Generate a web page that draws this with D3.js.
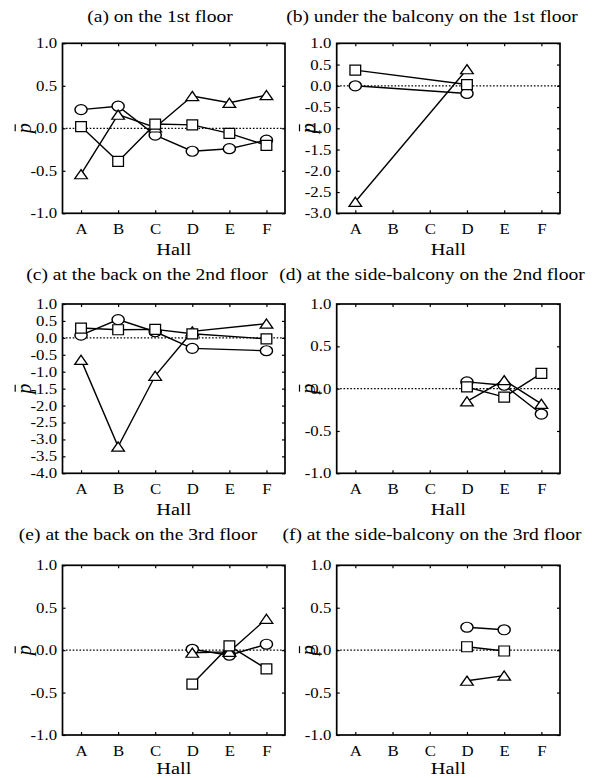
<!DOCTYPE html>
<html>
<head>
<meta charset="utf-8">
<script src="https://cdn.jsdelivr.net/npm/d3@7"></script>
<style>
  body { margin: 0; background: #fff; }
  text { font-family: "Liberation Serif", "Times New Roman", serif; fill: #000; }
</style>
</head>
<body>
<div id="chart"></div>
<script>
// categories and panel titles
var halls = ["A", "B", "C", "D", "E", "F"];
var titles = ["(a) on the 1st floor",
              "(b) under the balcony on the 1st floor",
              "(c) at the back on the 2nd floor",
              "(d) at the side-balcony on the 2nd floor",
              "(e) at the back on the 3rd floor",
              "(f) at the side-balcony on the 3rd floor"];

// y tick labels
var ticksOne   = [1.0, 0.5, 0.0, -0.5, -1.0];
var ticksThree = [1.0, 0.5, 0.0, -0.5, -1.0, -1.5, -2.0, -2.5, -3.0];
var ticksFour  = [1.0, 0.5, 0.0, -0.5, -1.0, -1.5, -2.0, -2.5, -3.0, -3.5, -4.0];

// values per hall (null = not measured)
var aCircle   = [0.22, 0.26, -0.08, -0.27, -0.24, -0.14];
var aSquare   = [0.02, -0.39, 0.05, 0.04, -0.06, -0.20];
var aTriangle = [-0.54, 0.16, 0.01, 0.38, 0.30, 0.39];

var bCircle   = [0.00, null, null, -0.18, null, null];
var bSquare   = [0.37, null, null, 0.03, null, null];
var bTriangle = [-2.73, null, null, 0.39, null, null];

var cCircle   = [0.08, 0.54, 0.18, -0.31, null, -0.38];
var cSquare   = [0.29, 0.24, 0.25, 0.12, null, -0.03];
var cTriangle = [-0.65, -3.21, -1.12, 0.19, null, 0.42];

var dCircle   = [null, null, null, 0.08, 0.04, -0.30];
var dSquare   = [null, null, null, 0.02, -0.10, 0.18];
var dTriangle = [null, null, null, -0.15, 0.10, -0.18];

var eCircle   = [null, null, null, 0.01, -0.06, 0.07];
var eSquare   = [null, null, null, -0.40, 0.05, -0.22];
var eTriangle = [null, null, null, -0.03, -0.02, 0.37];

var fCircle   = [null, null, null, 0.27, 0.24, null];
var fSquare   = [null, null, null, 0.04, -0.01, null];
var fTriangle = [null, null, null, -0.36, -0.30, null];

var panels = [
  {title: titles[0], ticks: ticksOne,   circle: aCircle, square: aSquare, triangle: aTriangle},
  {title: titles[1], ticks: ticksThree, circle: bCircle, square: bSquare, triangle: bTriangle},
  {title: titles[2], ticks: ticksFour,  circle: cCircle, square: cSquare, triangle: cTriangle},
  {title: titles[3], ticks: ticksOne,   circle: dCircle, square: dSquare, triangle: dTriangle},
  {title: titles[4], ticks: ticksOne,   circle: eCircle, square: eSquare, triangle: eTriangle},
  {title: titles[5], ticks: ticksOne,   circle: fCircle, square: fSquare, triangle: fTriangle}
];

// layout of the 3x2 grid
var cols = [{left: 62.5, right: 285, ylab: 30.7},
            {left: 336.7, right: 560, ylab: 315}];
var rows = [{top: 43.3, bottom: 213.3, title: 22, hall: 254.5},
            {top: 304, bottom: 473.3, title: 279.5, hall: 514.5},
            {top: 565.3, bottom: 735, title: 540, hall: 774.2}];
var titleX = [160, 432, 147, 432, 138, 432];
var stretch = 1.2;

var svg = d3.select("#chart").append("svg")
    .attr("width", 601)
    .attr("height", 778);

panels.forEach(function(p, i) {
  drawPanel(p, cols[i % 2], rows[Math.floor(i / 2)], titleX[i]);
});

function drawPanel(p, col, row, tx) {
  var x = d3.scalePoint().domain(halls).range([col.left, col.right]).padding(0.5);
  var y = d3.scaleLinear()
      .domain([p.ticks[p.ticks.length - 1], p.ticks[0]])
      .range([row.bottom, row.top]);
  var g = svg.append("g");

  //Title
  g.append("text")
      .attr("transform", "translate(" + tx + "," + row.title + ") scale(" + stretch + ",1)")
      .attr("text-anchor", "middle")
      .attr("font-size", 16.3)
      .text(p.title);

  //Zero line
  g.append("line")
      .attr("x1", col.left).attr("x2", col.right)
      .attr("y1", y(0)).attr("y2", y(0))
      .attr("stroke", "#000")
      .attr("stroke-width", 1.2)
      .attr("stroke-dasharray", "1.6,1.8");

  //Axes, ticks pointing inwards
  var yl = g.append("g")
      .attr("transform", "translate(" + col.left + ",0)")
      .call(d3.axisLeft(y).tickValues(p.ticks).tickSize(-3).tickPadding(4.5)
            .tickFormat(function(d) { return d.toFixed(1); }));
  g.append("g")
      .attr("transform", "translate(" + col.right + ",0)")
      .call(d3.axisRight(y).tickValues(p.ticks).tickSize(-3).tickFormat(""));
  var xb = g.append("g")
      .attr("transform", "translate(0," + row.bottom + ")")
      .call(d3.axisBottom(x).tickSize(-3).tickPadding(10.8));
  g.append("g")
      .attr("transform", "translate(0," + row.top + ")")
      .call(d3.axisTop(x).tickSize(-3).tickFormat(""));

  g.selectAll(".domain").remove();
  g.selectAll(".tick line").attr("stroke", "#000").attr("stroke-width", 1.2);
  yl.selectAll("text")
      .attr("font-size", 14)
      .attr("transform", "scale(" + stretch + ",1)");
  xb.selectAll("text")
      .attr("font-size", 14)
      .attr("transform", "scale(" + stretch + ",1)");
  g.selectAll("g").attr("font-family", null);

  //Frame
  g.append("rect")
      .attr("x", col.left).attr("y", row.top)
      .attr("width", col.right - col.left)
      .attr("height", row.bottom - row.top)
      .attr("fill", "none")
      .attr("stroke", "#000")
      .attr("stroke-width", 1.7);

  //Axis labels
  g.append("text")
      .attr("transform", "translate(" + (col.left + col.right) / 2 + "," + row.hall + ") scale(" + stretch + ",1)")
      .attr("text-anchor", "middle")
      .attr("font-size", 17)
      .text("Hall");

  var yl2 = g.append("g")
      .attr("transform", "translate(" + col.ylab + "," + (row.top + row.bottom) / 2 + ") rotate(-90)");
  yl2.append("text")
      .attr("text-anchor", "middle")
      .attr("font-size", 20)
      .attr("font-style", "italic")
      .text("p");
  yl2.append("line")
      .attr("x1", -3).attr("x2", 4)
      .attr("y1", -15.5).attr("y2", -15.5)
      .attr("stroke", "#000")
      .attr("stroke-width", 1.2);

  //Series
  var series = [
    {values: p.circle, symbol: d3.symbolCircle, size: 78, sx: 1.22, dy: 0},
    {values: p.triangle, symbol: d3.symbolTriangle, size: 48, sx: 1.2, dy: 1.5},
    {values: p.square, symbol: d3.symbolSquare, size: 100, sx: 1.07, dy: 0}
  ];
  var line = d3.line()
      .x(function(d) { return x(d.hall); })
      .y(function(d) { return y(d.v); });

  series.forEach(function(s) {
    var pts = halls.map(function(h, j) { return {hall: h, v: s.values[j]}; })
        .filter(function(d) { return d.v !== null; });
    g.append("path")
        .datum(pts)
        .attr("d", line)
        .attr("fill", "none")
        .attr("stroke", "#000")
        .attr("stroke-width", 1.4);
    g.selectAll(null)
        .data(pts)
        .enter().append("path")
        .attr("d", d3.symbol().type(s.symbol).size(s.size))
        .attr("transform", function(d) {
          return "translate(" + x(d.hall) + "," + (y(d.v) + s.dy) + ") scale(" + s.sx + ",1)";
        })
        .attr("fill", "#fff")
        .attr("stroke", "#000")
        .attr("stroke-width", 1.2);
  });
}
</script>
</body>
</html>
